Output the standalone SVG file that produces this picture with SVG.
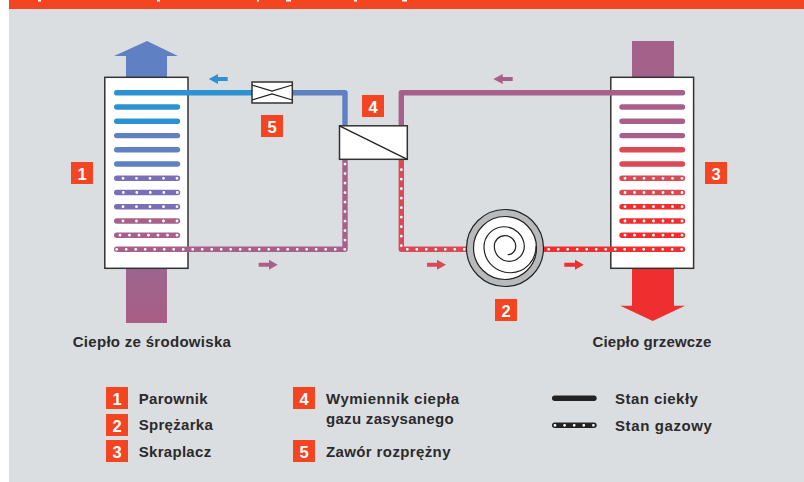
<svg xmlns="http://www.w3.org/2000/svg" width="804" height="482" viewBox="0 0 804 482">
<style>
.p{fill:none;stroke-width:5.4;stroke-linecap:round;stroke-linejoin:round}
.d{fill:none;stroke:#fff;stroke-width:2.8;stroke-linecap:round}
.d95{stroke-dasharray:0 9.5}
.d135{stroke-dasharray:0 13.5}
.blue{stroke:#2e92d2}.steel{stroke:#5f80c2}.vio{stroke:#7a6fb5}.mau{stroke:#a8608a}.ros{stroke:#d94a55}.red{stroke:#ef2e30}
.box{fill:#fff;stroke:#333;stroke-width:1.5}
.b{fill:#f34522}
.n{font:bold 16.5px "Liberation Sans",Arial,sans-serif;fill:#fff;text-anchor:middle}
.t{font:bold 15px "Liberation Sans",Arial,sans-serif;fill:#2b2a2c;letter-spacing:.3px}
</style>
<defs>
<linearGradient id="gm" x1="0" y1="0" x2="0" y2="1"><stop offset="0" stop-color="#9d658f"/><stop offset="1" stop-color="#a95e84"/></linearGradient>
</defs>
<rect x="9" y="0" width="795" height="482" fill="#dbdee1"/>
<g id="header">
<rect x="9" y="0" width="795" height="9" fill="#f34522"/>
<path fill="#fff" d="M38 0h3v1.5h-3zM157 0h3v1.5h-3zM257 0h2v1.5h-2zM286 0h5v1.5h-5zM354 0h3v1.5h-3zM402 0h5v1.5h-5z"/>
</g>
<g id="heat-flows">
<path id="heat-out-left" fill="#5f80c2" d="M126 77V56H114L147 41 178 56H167V77Z"/>
<rect id="heat-in-left" x="126" y="268" width="41" height="55" fill="url(#gm)"/>
<rect id="heat-in-right" x="632" y="41" width="42" height="36" fill="#a4628a"/>
<path id="heat-out-right" fill="#ef2e30" d="M632 268V305.700H620.300L652.700 321 685 305.700H674V268Z"/>
</g>
<g id="evaporator"><rect class="box" x="104.800" y="77.300" width="83.200" height="191"/></g>
<g id="condenser"><rect class="box" x="610.800" y="77.300" width="82.800" height="191"/></g>
<g id="connectors">
<path class="p steel" d="M292 92.700H345V126"/>
<path class="p blue" d="M116.700 92.700H252"/>
<path class="p blue" d="M116.700 107H177.500M116.700 121.200H177.500"/>
<path class="p steel" d="M116.700 135.600H177.500M116.700 149.800H177.500M116.700 164H177.500"/>
<path class="p vio" d="M116.700 178.300H177.500M116.700 192.500H177.500M116.700 206.700H177.500"/>
<path class="p mau" d="M116.700 221H177.500M116.700 235.200H177.500"/>
<path class="p mau" d="M116.700 249.300H345V159"/>
<path class="d d135" d="M123 178.300H180M123.300 192.500H180M123 206.700H180M123 221H180"/>
<path class="d d95" d="M120 235.200H180"/>
<path class="d d95" d="M116.700 249.300H345V160"/>
<path class="p mau" d="M401.300 126V92.700H682.500"/>
<path class="p mau" d="M622 107H682.500M622 121.200H682.500M622 135.600H682.500"/>
<path class="p ros" d="M622 149.800H682.500M622 164H682.500M622 178.300H682.500M622 192.500H682.500"/>
<path class="p red" d="M622 206.700H682.500M622 221H682.500M622 235.200H682.500"/>
<path class="p ros" d="M401.300 159V249.300H468"/>
<path class="p red" d="M542 249.300H682.500"/>
<path class="d d95" d="M401.300 245.700V169M407.300 249.300H466"/>
<path class="d d95" d="M548.700 249.300H684"/>
<path class="d d95" d="M625 178.300H684M625 192.500H684M625 206.700H684M625 221H684M625 235.200H684"/>
<path fill="#2e92d2" d="M208.700 79L218 74V77H227.700V81H218V84Z"/>
<path fill="#a8608a" d="M258.700 262.700H269V259.700L277.700 264.700 269 269.700V266.700H258.700Z"/>
<path fill="#a8608a" d="M493.300 79L502.700 74V77H512.700V81H502.700V84Z"/>
<path fill="#d94a55" d="M427 262.700H437V259.700L446 264.700 437 269.700V266.700H427Z"/>
<path fill="#ef2e30" d="M564.300 262.700H575V259.700L583.700 264.700 575 269.700V266.700H564.300Z"/>
</g>
<g id="valve">
<rect class="box" x="252" y="82" width="40.300" height="21"/>
<path fill="none" stroke="#222" stroke-width="1.300" d="M252 85L272 91 292.300 85M252 100L272 94 292.300 100"/>
</g>
<g id="exchanger">
<rect class="box" x="339.500" y="125.800" width="67.800" height="33.500"/>
<path fill="none" stroke="#222" stroke-width="1.300" d="M339.500 125.800L407.300 159.300"/>
</g>
<g id="compressor">
<circle cx="505" cy="248" r="38.500" fill="#b9babc" stroke="#222" stroke-width="1.200"/>
<circle cx="505" cy="248" r="31.500" fill="#fff" stroke="#222" stroke-width="1.200"/>
<path fill="none" stroke="#222" stroke-width="1.200" d="M507.700 254.700A8 8 0 0 0 515.700 246.300A10.700 10.700 0 0 0 494.300 246.300A15 15 0 0 0 524.300 246.300A20 20 0 0 0 484 247.500A26 26 0 0 0 536 246"/>
</g>
<g id="badge-1"><rect class="b" x="71" y="162" width="22" height="22"/><text class="n" x="82" y="179.500">1</text></g>
<g id="badge-2"><rect class="b" x="495" y="299" width="22" height="22"/><text class="n" x="506" y="316.500">2</text></g>
<g id="badge-3"><rect class="b" x="705" y="162" width="22" height="22"/><text class="n" x="716" y="179.500">3</text></g>
<g id="badge-4"><rect class="b" x="362" y="95" width="22" height="22"/><text class="n" x="373" y="112.500">4</text></g>
<g id="badge-5"><rect class="b" x="261" y="115" width="22" height="22"/><text class="n" x="272" y="132.500">5</text></g>
<g id="captions">
<text class="t" x="72.700" y="347">Ciepło ze środowiska</text>
<text class="t" x="592.500" y="347" style="letter-spacing:.15px">Ciepło grzewcze</text>
</g>
<g id="legend">
<g id="legend-1"><rect class="b" x="106" y="387" width="22" height="22"/><text class="n" x="117" y="404.500">1</text><text class="t" x="138.700" y="404">Parownik</text></g>
<g id="legend-2"><rect class="b" x="106" y="414" width="22" height="22"/><text class="n" x="117" y="431.500">2</text><text class="t" x="138.700" y="430">Sprężarka</text></g>
<g id="legend-3"><rect class="b" x="106" y="440" width="22" height="22"/><text class="n" x="117" y="457.500">3</text><text class="t" x="138.700" y="457">Skraplacz</text></g>
<g id="legend-4"><rect class="b" x="293" y="387" width="22" height="22"/><text class="n" x="304" y="404.500">4</text><text class="t" x="326" y="404" style="letter-spacing:.5px">Wymiennik ciepła</text><text class="t" x="326" y="423.700">gazu zasysanego</text></g>
<g id="legend-5"><rect class="b" x="293" y="440" width="22" height="22"/><text class="n" x="304" y="457.500">5</text><text class="t" x="326" y="457" style="letter-spacing:.38px">Zawór rozprężny</text></g>
<g id="legend-liquid"><path class="p" stroke="#222" d="M554.700 398.300H594"/><text class="t" x="615" y="404" style="letter-spacing:.45px">Stan ciekły</text></g>
<g id="legend-gas"><path class="p" stroke="#222" d="M554.700 425.300H594"/><path class="d" stroke-dasharray="0 9.600" d="M555 425.300H595"/><text class="t" x="615" y="431" style="letter-spacing:.6px">Stan gazowy</text></g>
</g>
</svg>
